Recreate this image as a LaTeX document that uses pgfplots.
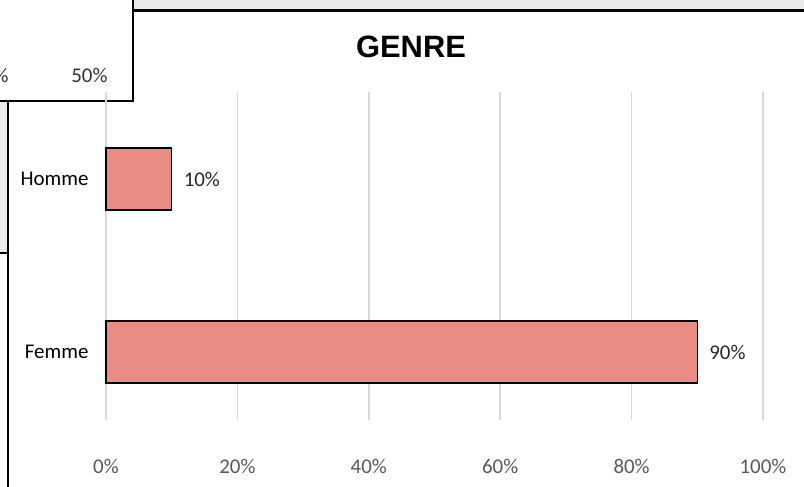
\documentclass[border=0pt]{standalone}
\usepackage{fontspec}
\setmainfont{Carlito}
\newfontfamily\titlefont{Liberation Sans}
\usepackage{pgfplots}
\pgfplotsset{compat=1.18}
\definecolor{barfill}{RGB}{232,140,132}
\definecolor{gridc}{RGB}{217,217,217}
\definecolor{tickc}{RGB}{89,89,89}
\definecolor{bandc}{RGB}{232,236,232}
\definecolor{stripc}{RGB}{238,234,236}
\begin{document}
\begin{tikzpicture}[x=1bp,y=1bp]
\useasboundingbox (0,0) rectangle (804,487);
% surrounding fragments of the screenshot
\fill[bandc] (133,476) rectangle (804,487);
\fill[stripc] (0,234) rectangle (8,386);
\draw[line width=3bp] (133,476) -- (804,476);
\draw[line width=2bp] (133,487) -- (133,386) -- (0,386);
\draw[line width=2bp] (8,386) -- (8,0);
\draw[line width=1.5bp] (0,234) -- (8,234);
\node[anchor=base east, font=\fontsize{21}{24}\selectfont, text=black!80] at (111,404) {50\%};
\node[anchor=base west, font=\fontsize{21}{24}\selectfont, text=black!80] at (-10,404) {\%};
% title
\node[font=\titlefont\bfseries\fontsize{31}{36}\selectfont] at (411,440) {GENRE};
\begin{axis}[
  at={(106bp,67bp)}, anchor=south west,
  scale only axis, width=657bp, height=328bp,
  xbar, bar width=62bp,
  xmin=0, xmax=100, ymin=-0.393, ymax=1.503,
  xtick={0,20,40,60,80,100},
  xticklabel={\pgfmathprintnumber{\tick}\%},
  ytick={0,1}, yticklabels={Femme,Homme},
  axis line style={draw=none},
  major tick length=0pt,
  xmajorgrids, grid style={gridc, line width=1.6bp},
  /pgf/number format/assume math mode=true,
  xticklabel style={font=\fontsize{21}{24}\selectfont, text=tickc, yshift=-36bp},
  yticklabel style={font=\fontsize{21}{24}\selectfont, text=black, xshift=-14bp},
  nodes near coords={\pgfmathprintnumber{\pgfplotspointmeta}\%},
  nodes near coords style={font=\fontsize{21}{24}\selectfont, text=black!85, anchor=west, xshift=8bp},
  clip=false,
]
\addplot[fill=barfill, draw=black, line width=1.5bp] coordinates {(90,0) (10,1)};
\end{axis}
\end{tikzpicture}
\end{document}
